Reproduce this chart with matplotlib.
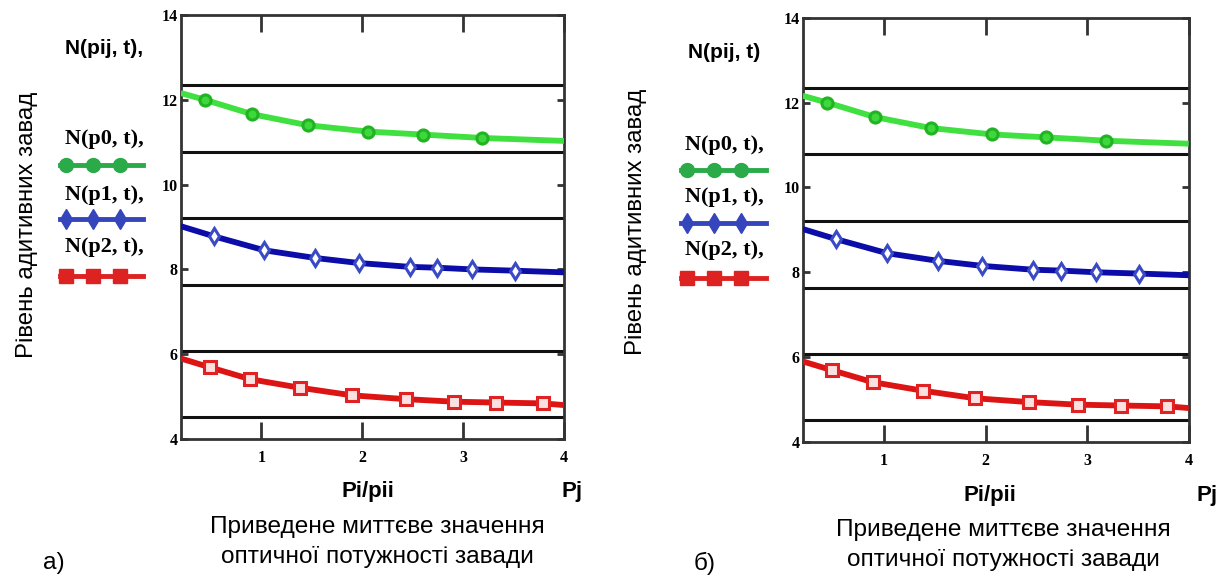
import numpy as np
import matplotlib
matplotlib.use('Agg')
import matplotlib.pyplot as plt
from matplotlib.lines import Line2D

# curve data (x = Pi/pii, y = noise level)
x_p0 = [0.2, 0.44, 0.91, 1.46, 2.06, 2.60, 3.19, 4.0]
y_p0 = [12.16, 12.00, 11.66, 11.40, 11.25, 11.18, 11.10, 11.03]
mk_p0 = [1, 2, 3, 4, 5, 6]

x_p1 = [0.2, 0.53, 1.03, 1.53, 1.97, 2.47, 2.74, 3.09, 3.51, 4.0]
y_p1 = [9.02, 8.78, 8.45, 8.27, 8.15, 8.06, 8.04, 8.00, 7.97, 7.93]
mk_p1 = [1, 2, 3, 4, 5, 6, 7, 8]

x_p2 = [0.2, 0.49, 0.89, 1.38, 1.90, 2.43, 2.91, 3.33, 3.79, 4.0]
y_p2 = [5.90, 5.69, 5.41, 5.21, 5.03, 4.94, 4.88, 4.86, 4.84, 4.80]
mk_p2 = [1, 2, 3, 4, 5, 6, 7, 8]

# horizontal band lines
band_levels = [12.35, 10.78, 9.21, 7.64, 6.07, 4.53]

x_ticks = [1, 2, 3, 4]
y_ticks = [4, 6, 8, 10, 12, 14]

W, H = 1224, 580
fig = plt.figure(figsize=(W / 100, H / 100), dpi=100)

SANS = 'Liberation Sans'
SERIF = 'Liberation Serif'

# (x, y, marker idx, line colour, marker, size, face, edge, legend label, legend colour)
series = [
	(x_p0, y_p0, mk_p0, '#3fe03f', 'o', 8, '#3cd83c', '#22b322', 'N(p0, t),', '#2aaa48'),
	(x_p1, y_p1, mk_p1, '#0c0ca8', 'd', 8.5, 'white', '#3a4ac4', 'N(p1, t),', '#3545bb'),
	(x_p2, y_p2, mk_p2, '#dd1414', 's', 8, '#fbe0e0', '#e02222', 'N(p2, t),', '#dd2222'),
]


def px(x, y):
	return x / W, 1 - y / H


def draw_panel(rect, lay, title_txt):
	ax = fig.add_axes(rect)
	ax.set_xlim(0.2, 4)
	ax.set_ylim(4, 14)
	for lv in band_levels:
		ax.axhline(lv, color='#111111', lw=2.2, zorder=1)
	for (xs, ys, mk, col, m, ms, mfc, mec, lab, lcol) in series:
		ax.plot(xs, ys, color=col, lw=4.2, solid_capstyle='butt', zorder=3)
		ax.plot([xs[i] for i in mk], [ys[i] for i in mk], ls='none', marker=m,
				ms=ms, mfc=mfc, mec=mec, mew=2.2, zorder=4)
	ax.set_xticks(x_ticks)
	ax.set_yticks(y_ticks)
	ax.tick_params(axis='x', direction='in', length=12, width=2, top=True, pad=8,
				   labelsize=11.5, color='#333333')
	ax.tick_params(axis='y', direction='in', length=5, width=2, right=True, pad=2,
				   labelsize=11.5, color='#333333')
	for lbl in ax.get_xticklabels() + ax.get_yticklabels():
		lbl.set_family(SERIF)
		lbl.set_weight('bold')
	for s in ax.spines.values():
		s.set_color('#333333')
		s.set_linewidth(2)

	# legend block on the left
	fig.text(*px(lay['leg_x'], lay['title_y']), title_txt, family=SANS, weight='bold',
			 fontsize=15, ha='center', va='center')
	for k, (xs, ys, mk, col, m, ms, mfc, mec, lab, lcol) in enumerate(series):
		fig.text(*px(lay['leg_x'], lay['txt_y'][k]), lab, family=SERIF, weight='bold',
				 fontsize=16, ha='center', va='center')
		x0, x1 = lay['line_x']
		ly = 1 - lay['line_y'][k] / H
		fig.add_artist(Line2D([x0 / W, x1 / W], [ly, ly], color=lcol, lw=3.5))
		mx = [x0 + 6, x0 + 33, x0 + 60]
		fig.add_artist(Line2D([v / W for v in mx], [ly] * 3, ls='none', marker=m,
							  ms=ms + 2, color=lcol, mec=lcol))

	fig.text(*px(lay['ylab_x'], lay['ylab_y']), 'Рівень адитивних завад', family=SANS,
			 fontsize=17.3, rotation=90, ha='center', va='center')
	fig.text(*px(lay['pi_x'], lay['pi_y']), 'Pi/pii', family=SANS, weight='bold',
			 fontsize=16, ha='center', va='center')
	fig.text(*px(lay['pj_x'], lay['pi_y']), 'Pj', family=SANS, weight='bold',
			 fontsize=16, ha='center', va='center')
	fig.text(*px(lay['cap_x'], lay['cap_y'][0]), 'Приведене миттєве значення', family=SANS,
			 fontsize=17.6, ha='center', va='center')
	fig.text(*px(lay['cap_x'], lay['cap_y'][1]), 'оптичної потужності завади', family=SANS,
			 fontsize=17.6, ha='center', va='center')
	fig.text(*px(lay['tag_x'], 563), lay['tag'], family=SANS, fontsize=17.6,
			 ha='center', va='center')
	return ax


left_lay = dict(leg_x=104, title_y=49, txt_y=[139, 195, 247], line_y=[165, 219, 276],
				line_x=(60, 143), ylab_x=27, ylab_y=225, pi_x=368, pj_x=572, pi_y=492,
				cap_x=377, cap_y=[527, 557], tag_x=54, tag='а)')
right_lay = dict(leg_x=724, title_y=53, txt_y=[145, 197, 250], line_y=[170, 223, 278],
				 line_x=(681, 766), ylab_x=636, ylab_y=222, pi_x=990, pj_x=1207, pi_y=496,
				 cap_x=1003, cap_y=[530, 560], tag_x=705, tag='б)')

draw_panel([180.7 / W, 1 - 439 / H, (564 - 180.7) / W, (439 - 15) / H], left_lay, 'N(pij, t),')
draw_panel([802.7 / W, 1 - 442 / H, (1188.7 - 802.7) / W, (442 - 17.7) / H], right_lay, 'N(pij, t)')

fig.savefig('out.png', dpi=100)
